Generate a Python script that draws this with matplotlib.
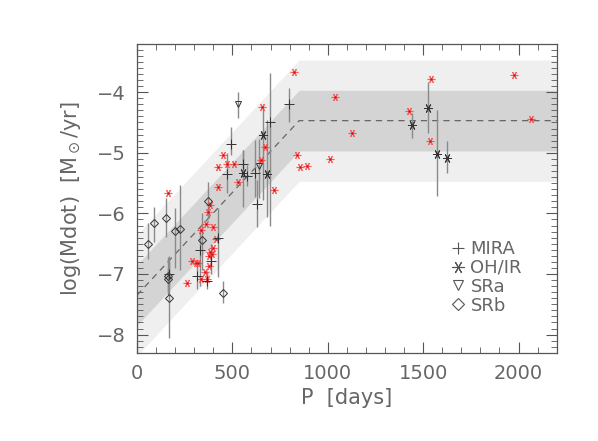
import numpy as np
import matplotlib.pyplot as plt
from matplotlib.lines import Line2D

# Period-mass loss relation: linear rise, then a plateau
KNEE_P = 850.0
PLATEAU = -4.47
START = -7.35          # log(Mdot) at P = 0
SIG_IN = 0.5
SIG_OUT = 1.0

# Red asterisks (no error bars)
red_p = [823, 1039, 839, 1128, 855, 892, 1012, 1427, 1540, 1537, 1977, 2065,
         656, 671, 650, 451, 427, 470, 511, 528, 427, 719, 161,
         383, 371, 362, 336, 397, 413, 400, 383, 376, 395, 287, 308, 322,
         379, 357, 334, 365, 264]
red_m = [-3.67, -4.08, -5.04, -4.67, -5.23, -5.22, -5.10, -4.31, -3.79, -4.80, -3.72, -4.44,
         -4.24, -4.90, -5.12, -5.04, -5.24, -5.19, -5.19, -5.49, -5.57, -5.62, -5.67,
         -5.86, -5.97, -6.18, -6.27, -6.23, -6.42, -6.57, -6.63, -6.70, -6.67, -6.78, -6.82, -6.82,
         -6.86, -6.96, -7.08, -7.08, -7.15]

# MIRA
mira_p = [797, 698, 491, 470, 575, 558, 619, 628, 427, 332, 388, 365, 313, 166]
mira_m = [-4.20, -4.49, -4.85, -5.35, -5.39, -5.19, -5.33, -5.85, -6.41, -6.60, -6.79, -7.11, -7.04, -7.00]
mira_lo = [-4.49, -6.20, -5.04, -5.66, -5.55, -5.45, -5.73, -6.22, -7.05, -7.20, -7.00, -7.25, -7.25, -7.20]
mira_hi = [-3.93, -3.69, -4.57, -5.00, -5.20, -4.95, -4.79, -5.45, -5.91, -6.27, -6.50, -6.95, -6.85, -6.80]

# OH/IR
ohir_p = [1441, 1526, 1572, 1623, 662, 680, 554]
ohir_m = [-4.55, -4.26, -5.02, -5.08, -4.70, -5.35, -5.33]
ohir_lo = [-4.75, -4.68, -5.72, -5.34, -5.78, -6.06, -5.90]
ohir_hi = [-4.35, -3.83, -4.30, -4.80, -4.21, -4.46, -4.95]

# SRa
sra_p = [531, 640]
sra_m = [-4.20, -5.22]
sra_lo = [-4.43, -5.75]
sra_hi = [-3.99, -4.78]

# SRb
srb_p = [371, 339, 453, 59, 91, 150, 201, 226, 161, 164, 170]
srb_m = [-5.79, -6.44, -7.31, -6.51, -6.16, -6.07, -6.29, -6.25, -7.04, -7.09, -7.39]
srb_lo = [-6.10, -6.93, -7.48, -6.76, -6.47, -6.39, -6.90, -6.93, -7.34, -7.30, -8.05]
srb_hi = [-5.48, -5.99, -7.12, -6.16, -5.89, -5.74, -5.91, -5.53, -6.72, -6.90, -6.71]

GREY_TXT = "#666666"
GREY_BAR = "#8a8a8a"

plt.rcParams['font.family'] = ['DejaVu Sans']
plt.rcParams['axes.unicode_minus'] = True

fig = plt.figure(figsize=(5.98, 4.41), dpi=100)
ax = fig.add_axes([0.229, 0.2, 0.702, 0.701])

# relation and bands
px = np.array([0.0, KNEE_P, 2200.0])
slope = (PLATEAU - START) / KNEE_P
center = np.where(px < KNEE_P, START + slope * px, PLATEAU)
ax.fill_between(px, center - SIG_OUT, center + SIG_OUT, color="#efefef", lw=0, zorder=0)
ax.fill_between(px, center - SIG_IN, center + SIG_IN, color="#d4d4d4", lw=0, zorder=1)
ax.plot(px, center, ls=(0, (5, 4)), color="#666666", lw=0.9, zorder=2)


def with_errors(p, m, lo, hi, marker, ms):
    m = np.array(m)
    yerr = [m - np.array(lo), np.array(hi) - m]
    ax.errorbar(p, m, yerr=yerr, fmt="none", ecolor=GREY_BAR, elinewidth=1.0,
                capsize=0, zorder=3)
    ax.plot(p, m, ls="none", marker=marker, ms=ms, mfc="none", mec="#333333",
            mew=0.7, zorder=5)


with_errors(mira_p, mira_m, mira_lo, mira_hi, "+", 6.5)
with_errors(ohir_p, ohir_m, ohir_lo, ohir_hi, (6, 2, 90), 6.5)
with_errors(sra_p, sra_m, sra_lo, sra_hi, "v", 5)
with_errors(srb_p, srb_m, srb_lo, srb_hi, "D", 4)

ax.plot(red_p, red_m, ls="none", marker=(6, 2, 90), ms=5.5, mec="#ff4040",
        mew=0.8, alpha=0.8, zorder=4)
ax.plot(red_p, red_m, ls="none", marker="s", ms=1.8, mfc="#c01010", mec="none",
        zorder=4)

ax.set_xlim(0, 2200)
ax.set_ylim(-8.3, -3.2)
ax.set_xticks([0, 500, 1000, 1500, 2000])
ax.set_xticks(np.arange(0, 2201, 100), minor=True)
ax.set_yticks([-8, -7, -6, -5, -4])
ax.set_yticks(np.arange(-8.3, -3.19, 0.1), minor=True)
ax.tick_params(which="both", direction="in", top=True, right=True,
               colors="#555555", labelcolor=GREY_TXT, labelsize=14, pad=8)
ax.tick_params(which="major", length=8, width=0.8)
ax.tick_params(which="minor", length=4, width=0.6)
for s in ax.spines.values():
    s.set_color("#555555")
    s.set_linewidth(0.9)

ax.set_xlabel("P  [days]", fontsize=15, color=GREY_TXT, labelpad=4)
ax.set_ylabel(r"log(Mdot)  [M$_\odot$/yr]", fontsize=15, color=GREY_TXT, labelpad=10)

handles = [
    Line2D([], [], ls="none", marker="+", ms=9, mec="#555555", mew=0.8),
    Line2D([], [], ls="none", marker=(6, 2, 90), ms=9, mec="#555555", mew=0.8),
    Line2D([], [], ls="none", marker="v", ms=7, mfc="none", mec="#555555", mew=0.8),
    Line2D([], [], ls="none", marker="D", ms=6, mfc="none", mec="#555555", mew=0.8),
]
leg = ax.legend(handles, ["MIRA", "OH/IR", "SRa", "SRb"], loc="lower left",
                bbox_to_anchor=(0.73, 0.1), frameon=False, fontsize=13,
                handlelength=0.8, handletextpad=0.3, labelspacing=0.05,
                borderaxespad=0)
for t in leg.get_texts():
    t.set_color(GREY_TXT)

fig.savefig("out.png", dpi=100)
